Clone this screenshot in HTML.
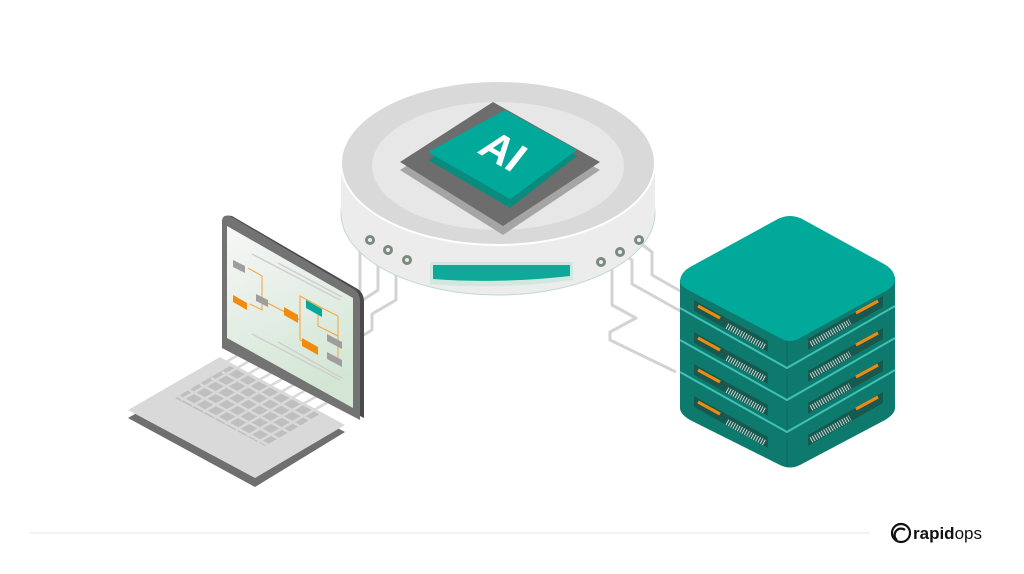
<!DOCTYPE html>
<html><head><style>
html,body{margin:0;padding:0;background:#fff;}
svg{display:block}
</style></head><body>
<svg width="1024" height="574" viewBox="0 0 1024 574" xmlns="http://www.w3.org/2000/svg">
<rect width="1024" height="574" fill="#fff"/>
<g fill="none" stroke="#d3d3d3" stroke-width="3" stroke-linejoin="round">
<path d="M368 243 L360 252 L360 290 L350 296"/>
<path d="M385 252 L378 260 L378 290 L360 302"/>
<path d="M405 262 L396 270 L396 300 L372 314 L372 330 L362 336"/>
<path d="M640 243 L652 252 L652 275 L682 292"/>
<path d="M622 252 L632 260 L632 284 L682 312"/>
<path d="M602 262 L612 270 L612 305 L636 318 L610 332 L610 340 L676 372"/>
</g>
<path d="M341 163 L341 213 A157 82 0 0 0 655 213 L655 163 Z" fill="#e9e9e9"/>
<ellipse cx="498" cy="213" rx="157" ry="82" fill="#ececec" stroke="#bfd9d3" stroke-width="1"/>
<rect x="341" y="163" width="314" height="50" fill="#ececec"/>
<ellipse cx="498" cy="163" rx="157" ry="82" fill="#d9d9d9" stroke="#fff" stroke-width="2"/>
<ellipse cx="498" cy="166" rx="126" ry="64" fill="#e7e7e7"/>
<g fill="none" stroke="#7a8a7e" stroke-width="3">
<circle cx="370" cy="240" r="3.5"/><circle cx="388" cy="250" r="3.5"/><circle cx="407" cy="260" r="3.5"/>
<circle cx="601" cy="262" r="3.5"/><circle cx="620" cy="252" r="3.5"/><circle cx="639" cy="240" r="3.5"/>
</g>
<path d="M430 262 L573 262 L573 280 Q500 290 430 284 Z" fill="#d0e8e0"/>
<path d="M433 265 L570 265 L570 276 Q500 284 433 279 Z" fill="#0fa899"/>
<path d="M400 170 L493 112 L600 170 L503 235 Z" fill="#a5a5a5"/>
<path d="M400 162 L493 102 L600 162 L503 226 Z" fill="#6d6d6d"/>
<path d="M428 160 L505 113 L577 156 L510 208 Z" fill="#0b8b7d"/>
<path d="M428 152 L505 110 L577 150 L510 199 Z" fill="#00a99a"/>
<text x="0" y="0" font-family="Liberation Sans, sans-serif" font-weight="bold" font-size="42" fill="#fff" transform="translate(476 152) rotate(30) skewX(-8)">AI</text>
<path d="M128 418 L220 365 L345 432 L255 487 Z" fill="#6f6f6f"/>
<path d="M128 410 L220 357 L345 425 L255 478 Z" fill="#d9d9d9"/>
<g fill="#a9a9a9">
<path d="M175 398 L230 366 L320 414 L265 446 Z" opacity="0.55"/>
</g>
<g stroke="#d9d9d9" stroke-width="2.5">
<path d="M170 394 L240 354 M181 400 L251 360 M192 406 L262 366 M203 412 L273 372 M214 418 L284 378 M225 424 L295 384 M236 430 L306 390 M247 436 L317 396 M258 442 L328 402"/>
<path d="M178 396 L270 446 M189 390 L281 440 M200 384 L292 434 M211 378 L303 428 M222 372 L314 422 M233 366 L325 416"/>
</g>
<path d="M222 222 Q222 214 232 216 L356 288 Q364 292 364 302 L364 418 L222 347 Z" fill="#4a4a4a"/>
<path d="M222 222 Q222 214 230 216 L352 288 Q360 292 360 302 L360 420 L222 348 Z" fill="#737373"/>
<defs><linearGradient id="sg" x1="0" y1="0" x2="0.3" y2="1"><stop offset="0" stop-color="#f7f7f7"/><stop offset="1" stop-color="#d3e6d5"/></linearGradient></defs>
<path d="M227 226 L353 298 L353 408 L227 338 Z" fill="url(#sg)"/>
<g stroke="#cfcfcf" stroke-width="1.5">
<path d="M252 254 L340 300 M278 263 L342 297 M252 334 L340 380 M278 342 L342 378"/>
</g>
<g fill="none" stroke="#f4a23b" stroke-width="1">
<path d="M248 268 L262 276 L262 310 L250 304 M262 300 L300 320 L300 296 L322 308 L338 316 L338 358 M300 320 L300 340 L312 346 M318 308 L318 326 L338 336"/>
</g>
<g>
<path d="M233 260 L245 266 L245 273 L233 267 Z" fill="#9e9e9e"/>
<path d="M256 294 L268 300 L268 307 L256 301 Z" fill="#9e9e9e"/>
<path d="M233 295 L247 303 L247 310 L233 302 Z" fill="#f28b0c"/>
<path d="M284 307 L298 315 L298 323 L284 315 Z" fill="#f28b0c"/>
<path d="M306 300 L322 309 L322 317 L306 308 Z" fill="#00a99a"/>
<path d="M302 338 L318 347 L318 355 L302 346 Z" fill="#f28b0c"/>
<path d="M327 334 L342 342 L342 349 L327 341 Z" fill="#9e9e9e"/>
<path d="M327 352 L342 360 L342 367 L327 359 Z" fill="#9e9e9e"/>
</g>
<path d="M680 280 L680 408 Q680 414 690 420 L780 465 Q790 470 800 465 L885 420 Q895 414 895 408 L895 277 Z" fill="#0e7a6e"/>
<path d="M787 340 L787 466" stroke="#0a6b60" stroke-width="1"/>
<g fill="none" stroke="#3fc2b4" stroke-width="2">
<path d="M680 308 L787 368 L895 306"/>
<path d="M680 340 L787 400 L895 338"/>
<path d="M680 372 L787 432 L895 370"/>
</g>
<path d="M680 282 Q680 272 692 266 L776 220 Q790 212 804 220 L884 264 Q895 270 895 280 Q895 286 884 292 L800 338 Q790 344 780 338 L692 292 Q680 286 680 282 Z" fill="#00a99a"/>
<g fill="#17594f">
<path d="M694 300 L768 341 L768 352 L694 311 Z"/>
<path d="M694 332 L768 373 L768 384 L694 343 Z"/>
<path d="M694 364 L768 405 L768 416 L694 375 Z"/>
<path d="M694 396 L768 437 L768 448 L694 407 Z"/>
<path d="M883 296 L808 339 L808 350 L883 307 Z"/>
<path d="M883 328 L808 371 L808 382 L883 339 Z"/>
<path d="M883 360 L808 403 L808 414 L883 371 Z"/>
<path d="M883 392 L808 435 L808 446 L883 403 Z"/>
</g>
<g stroke="#f28b0c" stroke-width="3">
<path d="M698 306 L720 318 M698 338 L720 350 M698 370 L720 382 M698 402 L720 414"/>
<path d="M878 301 L856 313 M878 333 L856 345 M878 365 L856 377 M878 397 L856 409"/>
</g>
<g stroke="#cfd8d6" stroke-width="6" stroke-dasharray="1 1.6">
<path d="M727 326 L765 347 M727 358 L765 379 M727 390 L765 411 M727 422 L765 443"/>
<path d="M811 344 L850 322 M811 376 L850 354 M811 408 L850 386 M811 440 L850 418"/>
</g>
<line x1="30" y1="533" x2="870" y2="533" stroke="#eeeeee" stroke-width="1.5"/>
<g fill="none" stroke="#111" stroke-width="2.2">
<circle cx="901" cy="533" r="9"/>
<path d="M897 540 A6 6 0 0 1 905 530"/>
</g>
<text x="913" y="539" font-family="Liberation Sans, sans-serif" font-size="17" fill="#111"><tspan font-weight="bold">rapid</tspan>ops</text>
</svg>
</body></html>
